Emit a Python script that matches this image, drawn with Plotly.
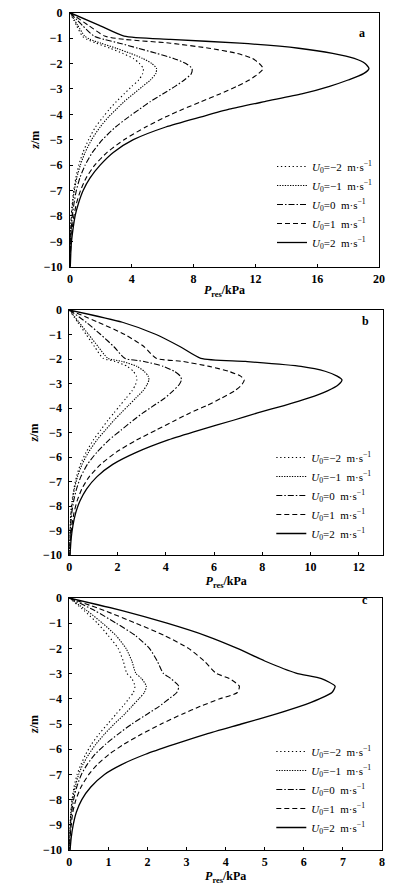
import plotly.graph_objects as go

# ---------------- data ----------------
legend_text = [
    "<i>U</i><sub>0</sub>=−2\u00a0 m·s<sup>−1</sup>",
    "<i>U</i><sub>0</sub>=−1\u00a0 m·s<sup>−1</sup>",
    "<i>U</i><sub>0</sub>=0\u00a0 m·s<sup>−1</sup>",
    "<i>U</i><sub>0</sub>=1\u00a0 m·s<sup>−1</sup>",
    "<i>U</i><sub>0</sub>=2\u00a0 m·s<sup>−1</sup>",
]

# panel a
z_a = [0, -0.5, -0.92, -1.05, -1.2, -1.4, -1.6, -1.8, -2.0, -2.2, -2.4, -2.65, -2.9, -3.2,
       -3.5, -3.8, -4.1, -4.5, -5.0, -5.5, -6.0, -6.5, -7.0, -7.5, -8.0, -8.5, -9.0, -9.5, -10]
a_m2 = [0, 0.42, 0.8, 1.1, 1.7, 2.6, 3.4, 4.1, 4.5, 4.75, 4.7, 4.45, 4.0, 3.5, 3.0, 2.55, 2.15,
        1.65, 1.2, 0.84, 0.57, 0.38, 0.24, 0.15, 0.08, 0.04, 0.02, 0.01, 0]
a_m1 = [0, 0.5, 0.95, 1.3, 2.0, 3.0, 3.9, 4.7, 5.3, 5.6, 5.55, 5.2, 4.7, 4.1, 3.5, 3.0, 2.5,
        1.95, 1.4, 0.98, 0.67, 0.44, 0.28, 0.17, 0.1, 0.05, 0.03, 0.01, 0]
a_0 = [0, 0.8, 1.55, 2.2, 3.2, 4.4, 5.6, 6.7, 7.5, 7.9, 7.85, 7.4, 6.8, 6.0, 5.2, 4.5, 3.8,
       2.95, 2.1, 1.45, 0.98, 0.64, 0.41, 0.26, 0.15, 0.08, 0.04, 0.02, 0.01]
a_p1 = [0, 1.2, 2.25, 3.5, 6.5, 9.0, 10.8, 11.8, 12.25, 12.5, 12.2, 11.6, 10.8, 9.7, 8.5, 7.3,
        6.2, 4.9, 3.5, 2.4, 1.6, 1.05, 0.68, 0.42, 0.25, 0.14, 0.07, 0.03, 0.01]
a_p2 = [0, 1.9, 3.5, 6.5, 11.0, 14.8, 17.0, 18.4, 19.1, 19.35, 19.0, 18.0, 16.8, 15.0, 12.6,
        10.3, 8.5, 6.2, 4.1, 2.8, 1.95, 1.3, 0.85, 0.55, 0.33, 0.2, 0.1, 0.05, 0.02]

# panel b
z_b = [0, -0.5, -1.0, -1.5, -1.97, -2.1, -2.3, -2.5, -2.7, -2.85, -3.05, -3.3, -3.6, -3.9,
       -4.2, -4.5, -4.9, -5.3, -5.8, -6.3, -6.8, -7.3, -7.8, -8.3, -8.8, -9.3, -10]
b_m2 = [0, 0.35, 0.7, 1.05, 1.4, 1.9, 2.4, 2.65, 2.78, 2.8, 2.74, 2.6, 2.35, 2.1, 1.85, 1.6,
        1.3, 1.0, 0.7, 0.46, 0.3, 0.19, 0.11, 0.06, 0.03, 0.02, 0]
b_m1 = [0, 0.4, 0.8, 1.2, 1.6, 2.2, 2.8, 3.1, 3.27, 3.3, 3.22, 3.05, 2.75, 2.45, 2.15, 1.85,
        1.5, 1.15, 0.8, 0.53, 0.34, 0.21, 0.13, 0.07, 0.04, 0.02, 0]
b_0 = [0, 0.7, 1.3, 1.85, 2.3, 3.1, 3.9, 4.35, 4.6, 4.65, 4.55, 4.3, 3.95, 3.5, 3.05, 2.65,
       2.15, 1.65, 1.15, 0.75, 0.48, 0.3, 0.18, 0.1, 0.06, 0.03, 0.01]
b_p1 = [0, 1.2, 2.3, 3.1, 3.6, 4.7, 5.8, 6.6, 7.1, 7.25, 7.15, 6.85, 6.3, 5.7, 5.0, 4.4, 3.6,
        2.8, 1.95, 1.3, 0.83, 0.52, 0.32, 0.19, 0.11, 0.06, 0.02]
b_p2 = [0, 2.2, 3.6, 4.6, 5.45, 7.3, 9.6, 10.6, 11.1, 11.3, 11.15, 10.7, 9.9, 8.9, 7.8, 6.8,
        5.4, 4.1, 2.8, 1.8, 1.15, 0.72, 0.44, 0.26, 0.15, 0.08, 0.03]

# panel c
z_c = [0, -0.5, -1.0, -1.5, -2.0, -2.5, -2.98, -3.2, -3.5, -3.75, -4.0, -4.3, -4.6, -5.0,
       -5.4, -5.8, -6.2, -6.6, -7.0, -7.5, -8.0, -8.5, -9.0, -9.5, -10]
c_m2 = [0, 0.38, 0.72, 1.0, 1.25, 1.38, 1.47, 1.6, 1.68, 1.64, 1.52, 1.37, 1.2, 0.98, 0.76,
        0.57, 0.42, 0.3, 0.2, 0.12, 0.07, 0.04, 0.02, 0.01, 0]
c_m1 = [0, 0.45, 0.85, 1.2, 1.45, 1.6, 1.7, 1.85, 1.97, 1.92, 1.78, 1.6, 1.42, 1.15, 0.9,
        0.68, 0.5, 0.35, 0.24, 0.15, 0.08, 0.04, 0.02, 0.01, 0]
c_0 = [0, 0.65, 1.2, 1.7, 2.05, 2.25, 2.4, 2.6, 2.8, 2.75, 2.55, 2.3, 2.0, 1.6, 1.25, 0.93,
       0.66, 0.46, 0.31, 0.19, 0.11, 0.06, 0.03, 0.01, 0]
c_p1 = [0, 0.9, 1.7, 2.45, 3.05, 3.45, 3.75, 4.1, 4.35, 4.3, 3.85, 3.35, 2.9, 2.35, 1.85,
        1.4, 1.02, 0.72, 0.5, 0.3, 0.17, 0.09, 0.05, 0.02, 0.01]
c_p2 = [0, 1.35, 2.5, 3.5, 4.3, 5.0, 5.8, 6.45, 6.8, 6.72, 6.4, 5.9, 5.3, 4.4, 3.5, 2.7,
        1.95, 1.35, 0.9, 0.55, 0.32, 0.18, 0.1, 0.05, 0.02]

x_ticks_a = [0, 4, 8, 12, 16, 20]
x_ticks_b = [0, 2, 4, 6, 8, 10, 12]
x_ticks_c = [0, 1, 2, 3, 4, 5, 6, 7, 8]
y_ticks = [0, -1, -2, -3, -4, -5, -6, -7, -8, -9, -10]

# ---------------- styling ----------------
W, H = 399, 891
FONT = "Liberation Serif"
dashes = ["1.3px,2.6px", "1.3px,1.3px", "6px,2px,1.5px,2px", "5px,3px", "solid"]
widths = [1.1, 1.1, 1.1, 1.1, 1.3]


def fx(px):  # window pixel x -> paper fraction
    return px / W


def fy(py):  # window pixel y -> paper fraction
    return 1 - py / H


panels = [
    dict(z=z_a, series=[a_m2, a_m1, a_0, a_p1, a_p2], xr=[0, 20], ticks=x_ticks_a,
         px=(70, 379), py=(12.7, 266.7), tag="a", leg_top=152),
    dict(z=z_b, series=[b_m2, b_m1, b_0, b_p1, b_p2], xr=[0, 13], ticks=x_ticks_b,
         px=(69.3, 383), py=(310, 555), tag="b", leg_top=443),
    dict(z=z_c, series=[c_m2, c_m1, c_0, c_p1, c_p2], xr=[0, 8], ticks=x_ticks_c,
         px=(69.3, 382), py=(598, 850), tag="c", leg_top=737),
]

fig = go.Figure()
layout = dict(
    template="none",
    width=W, height=H, margin=dict(l=0, r=0, t=0, b=0, autoexpand=False),
    paper_bgcolor="white", plot_bgcolor="white",
    font=dict(family=FONT, color="black"),
    showlegend=True, annotations=[],
)

for i, p in enumerate(panels):
    n = "" if i == 0 else str(i + 1)
    xa, ya = "x" + n, "y" + n
    leg = "legend" + n
    for k in range(5):
        fig.add_trace(go.Scatter(
            x=p["series"][k], y=p["z"], mode="lines", name=legend_text[k],
            line=dict(color="black", width=widths[k], dash=dashes[k], shape="spline",
                      smoothing=0.6),
            xaxis=xa, yaxis=ya, legend=leg, hoverinfo="skip",
        ))
    x0, x1 = p["px"]
    y0, y1 = p["py"]
    axis_common = dict(
        showgrid=False, zeroline=False, showline=True, linecolor="black", linewidth=1,
        mirror=True, ticks="inside", ticklen=3, tickcolor="black", automargin=False,
        tickfont=dict(family=FONT, size=12, color="black", weight="bold"),
    )
    layout["xaxis" + n] = dict(
        axis_common, domain=[fx(x0), fx(x1)], anchor=ya, range=p["xr"],
        tickvals=p["ticks"], ticklabelstandoff=1,
        title=dict(text="<i>P</i><sub>res</sub>/kPa", standoff=0,
                   font=dict(family=FONT, size=12, weight="bold")),
    )
    layout["yaxis" + n] = dict(
        axis_common, domain=[fy(y1), fy(y0)], anchor=xa, range=[-10, 0],
        tickvals=y_ticks, ticklabelstandoff=4,
        title=dict(text="<i>z</i>/m", standoff=1,
                   font=dict(family=FONT, size=12, weight="bold")),
    )
    layout[leg] = dict(
        x=fx(x0 + 202), y=fy(p["leg_top"]), xanchor="left", yanchor="top",
        bgcolor="rgba(0,0,0,0)", borderwidth=0, tracegroupgap=0,
        font=dict(family=FONT, size=11, color="black"), itemwidth=30,
    )
    layout["annotations"].append(dict(
        text="<b>" + p["tag"] + "</b>", xref="paper", yref="paper",
        x=fx(x1 - 12), y=fy(y0 + 11), showarrow=False,
        font=dict(family=FONT, size=12, color="black"),
    ))

fig.update_layout(**layout)
fig.write_html(
    "out.html",
    config={"displayModeBar": False},
    post_script="document.body.style.margin='0';document.body.style.overflow='hidden';",
)
